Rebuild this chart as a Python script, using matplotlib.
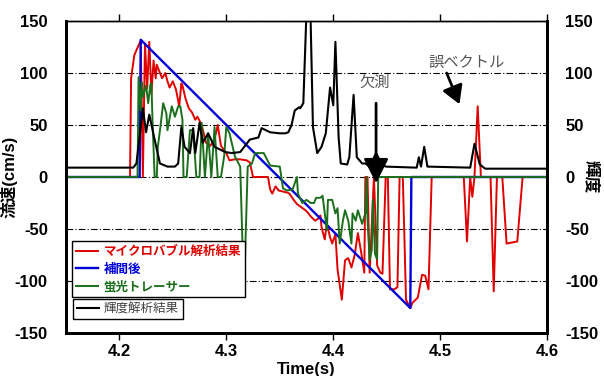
import matplotlib
matplotlib.use("Agg")
import matplotlib.pyplot as plt

plt.rcParams['font.family'] = ['Liberation Sans', 'Noto Sans CJK JP', 'DejaVu Sans']
plt.rcParams['axes.unicode_minus'] = False

# 補間後 (blue)
blue_t = [4.150, 4.219, 4.220, 4.472, 4.473, 4.600]
blue_v = [0, 0, 132, -126, 0, 0]

# マイクロバブル解析結果 (red)
red_t = [4.150, 4.210, 4.211, 4.214, 4.216, 4.220, 4.222, 4.224, 4.226, 4.228,
         4.230, 4.232, 4.234, 4.235, 4.238, 4.240, 4.243, 4.245, 4.247, 4.250,
         4.253, 4.256, 4.258, 4.259, 4.262, 4.265, 4.268, 4.271, 4.273, 4.275,
         4.277, 4.281, 4.285, 4.289, 4.292, 4.295, 4.300, 4.303, 4.308, 4.313,
         4.319, 4.322, 4.325, 4.339, 4.341, 4.343, 4.346, 4.349, 4.353, 4.357,
         4.359, 4.363, 4.366, 4.370, 4.374, 4.376, 4.379, 4.383, 4.386, 4.388,
         4.389, 4.392, 4.394, 4.397, 4.399, 4.402, 4.404, 4.408, 4.411, 4.414,
         4.417, 4.420, 4.423, 4.426, 4.429, 4.430, 4.432, 4.434, 4.438, 4.441,
         4.444, 4.446, 4.449, 4.451, 4.453, 4.457, 4.460, 4.462, 4.465, 4.468,
         4.470, 4.472, 4.474, 4.477, 4.479, 4.483, 4.486, 4.489, 4.492, 4.522,
         4.525, 4.528, 4.530, 4.532, 4.535, 4.538, 4.547, 4.550, 4.553, 4.558,
         4.562, 4.567, 4.572, 4.577, 4.600]
red_v = [0, 0, 95, 117, 122, 131, 0, 128, 85, 130,
         80, 112, 95, 108, 100, 95, 100, 92, 86, 92,
         84, 68, 90, 88, 75, 66, 62, 55, 58, 54,
         50, 33, 30, 36, 50, 30, 23, 16, 17, 17,
         16, 14, 0, 0, -12, -16, -9, -13, -14, -15,
         -16, -22, -26, -29, -32, -34, -38, -42, -40, -37,
         -48, -60, -45, -58, -64, -55, -89, -118, -80, -78,
         -87, -75, -54, -72, -92, 0, 0, -92, 0, -85,
         -92, -93, 0, 0, -108, -108, -106, 0, 0, -118,
         -122, -126, -121, -118, -116, -94, -95, -108, 0, 0,
         -62, 0, -19, 0, 68, 0, 0, -110, 0, 0,
         -64, -63, -62, 0, 0]

# 蛍光トレーサー (green)
green_t = [4.150, 4.217, 4.218, 4.220, 4.221, 4.222, 4.225, 4.227, 4.229, 4.230,
           4.231, 4.233, 4.235, 4.236, 4.238, 4.241, 4.244, 4.245, 4.249, 4.252,
           4.255, 4.257, 4.259, 4.260, 4.263, 4.266, 4.269, 4.272, 4.275, 4.277,
           4.280, 4.283, 4.286, 4.289, 4.292, 4.295, 4.298, 4.300, 4.303, 4.308,
           4.313, 4.315, 4.317, 4.318, 4.320, 4.324, 4.327, 4.335, 4.341, 4.350,
           4.353, 4.357, 4.362, 4.366, 4.367, 4.371, 4.375, 4.379, 4.382, 4.384,
           4.388, 4.390, 4.394, 4.395, 4.399, 4.402, 4.404, 4.406, 4.409, 4.411,
           4.414, 4.417, 4.418, 4.421, 4.423, 4.427, 4.430, 4.431, 4.432, 4.434,
           4.436, 4.437, 4.439, 4.441, 4.442, 4.600]
green_v = [0, 0, 96, 64, 91, 77, 88, 71, 89, 90,
           55, 0, 0, 29, 45, 71, 61, 45, 68, 58,
           68, 68, 55, 0, 0, 45, 45, 0, 0, 52,
           0, 42, 0, 48, 0, 0, 20, 48, 42, 20,
           10, -60, -99, -60, 10, 13, 23, 23, 11, 10,
           -11, -13, -12, 0, -16, -25, -22, -25, -25, -20,
           -20, -18, -51, -22, -22, -35, -30, -64, -42, -32,
           -42, -64, -35, -42, -32, -45, -35, 0, -40, -80,
           -70, -22, -74, -79, 0, 0]

# 輝度解析結果 (black, right axis)
lum_t = [4.150, 4.213, 4.216, 4.222, 4.225, 4.228, 4.233, 4.238, 4.245, 4.252,
         4.255, 4.258, 4.261, 4.266, 4.269, 4.271, 4.275, 4.278, 4.283, 4.289,
         4.299, 4.305, 4.313, 4.322, 4.330, 4.333, 4.341, 4.350, 4.355, 4.358,
         4.361, 4.364, 4.368, 4.369, 4.372, 4.376, 4.378, 4.381, 4.385, 4.389,
         4.393, 4.397, 4.400, 4.402, 4.405, 4.407, 4.413, 4.415, 4.419, 4.422,
         4.427, 4.430, 4.434, 4.440, 4.445, 4.449, 4.478, 4.480, 4.482, 4.485,
         4.488, 4.528, 4.532, 4.537, 4.542, 4.600]
lum_v = [9, 9, 13, 66, 43, 60, 36, 13, 10, 10,
         13, 48, 29, 23, 47, 23, 52, 33, 42, 29,
         24, 23, 24, 36, 38, 47, 43, 42, 42, 43,
         50, 64, 67, 66, 71, 190, 190, 48, 23, 29,
         42, 86, 69, 130, 38, 13, 12, 19, 79, 19,
         13, 13, 10, 23, 13, 10, 9, 19, 10, 29,
         10, 9, 32, 12, 8, 8]

yticks = [-150, -100, -50, 0, 50, 100, 150]
xticks = [4.2, 4.3, 4.4, 4.5, 4.6]

c_red = '#e00000'
c_blue = '#0000dd'
c_green = '#1b6e1b'

fig = plt.figure(figsize=(6.04, 3.76), dpi=100)
ax = fig.add_axes([0.109, 0.1144, 0.797, 0.8297])
ax2 = ax.twinx()

l_red, = ax.plot(red_t, red_v, color=c_red, lw=1.4)
l_blue, = ax.plot(blue_t, blue_v, color=c_blue, lw=1.7)
l_green, = ax.plot(green_t, green_v, color=c_green, lw=1.4)
l_lum, = ax2.plot(lum_t, lum_v, color='black', lw=1.5)

for a in (ax, ax2):
    a.set_xlim(4.15, 4.6)
    a.set_ylim(-150, 150)
    a.set_yticks(yticks)
ax.set_xticks(xticks)
ax.set_xticklabels(['4.2', '4.3', '4.4', '4.5', '4.6'])

ax.yaxis.grid(True, color='black', lw=0.8, linestyle=(0, (6, 2, 1, 2)))
ax.set_axisbelow(True)

for s in ('left', 'right', 'bottom'):
    ax.spines[s].set_linewidth(2)
    ax2.spines[s].set_linewidth(2)
ax.spines['top'].set_linewidth(1)
ax2.spines['top'].set_linewidth(1)

ax.tick_params(axis='y', length=0, pad=13, labelsize=12)
ax2.tick_params(axis='y', length=0, pad=13, labelsize=12)
ax.tick_params(axis='x', direction='out', length=5, width=1, pad=3, labelsize=12,
               top=True)
for lab in ax.get_xticklabels() + ax.get_yticklabels() + ax2.get_yticklabels():
    lab.set_fontweight('bold')

ax.set_xlabel('Time(s)', fontsize=12, fontweight='bold', labelpad=2)
ax.set_ylabel('流速(cm/s)', fontsize=12, fontweight='bold')
ax.yaxis.set_label_coords(-0.1, 0.5)
ax2.set_ylabel('輝度', fontsize=12, fontweight='bold', rotation=270, va='center')
ax2.yaxis.set_label_coords(1.09, 0.5)

# 注記
ax2.text(4.424, 91, '欠測', fontsize=11, color='#555555', va='center',
         family=['Noto Sans CJK JP'])
ax2.annotate('', xy=(4.440, -6), xytext=(4.440, 71),
             arrowprops=dict(arrowstyle='-|>,head_length=0.75,head_width=0.38',
                             lw=2, color='black', mutation_scale=20,
                             shrinkA=0, shrinkB=0))
ax2.text(4.489, 110, '誤ベクトル', fontsize=11, color='#555555', va='center',
         family=['Noto Sans CJK JP'])
ax2.annotate('', xy=(4.518, 70), xytext=(4.506, 100),
             arrowprops=dict(arrowstyle='-|>,head_length=0.55,head_width=0.32',
                             lw=2, color='black', mutation_scale=20,
                             shrinkA=0, shrinkB=0))

# 凡例
leg1 = ax2.legend([l_red, l_blue, l_green],
                  ['マイクロバブル解析結果', '補間後', '蛍光トレーサー'],
                  loc='upper left', bbox_to_anchor=(0.012, 0.295), borderaxespad=0,
                  fancybox=False, framealpha=1, edgecolor='black',
                  prop={'family': 'Noto Sans CJK JP', 'weight': 'bold', 'size': 9},
                  handlelength=1.8, handletextpad=0.4, labelspacing=0.35,
                  borderpad=0.35)
leg1.get_frame().set_linewidth(1)
for txt, col in zip(leg1.get_texts(), (c_red, c_blue, c_green)):
    txt.set_color(col)
ax2.add_artist(leg1)

leg2 = ax2.legend([l_lum], ['輝度解析結果'],
                  loc='upper left', bbox_to_anchor=(0.0146, 0.109), borderaxespad=0,
                  fancybox=False, framealpha=1, edgecolor='black',
                  prop={'family': 'Noto Sans CJK JP', 'size': 9},
                  handlelength=1.8, handletextpad=0.4, borderpad=0.3)
leg2.get_frame().set_linewidth(1)
leg2.get_texts()[0].set_color('#404040')

fig.savefig('out.png', dpi=100)
